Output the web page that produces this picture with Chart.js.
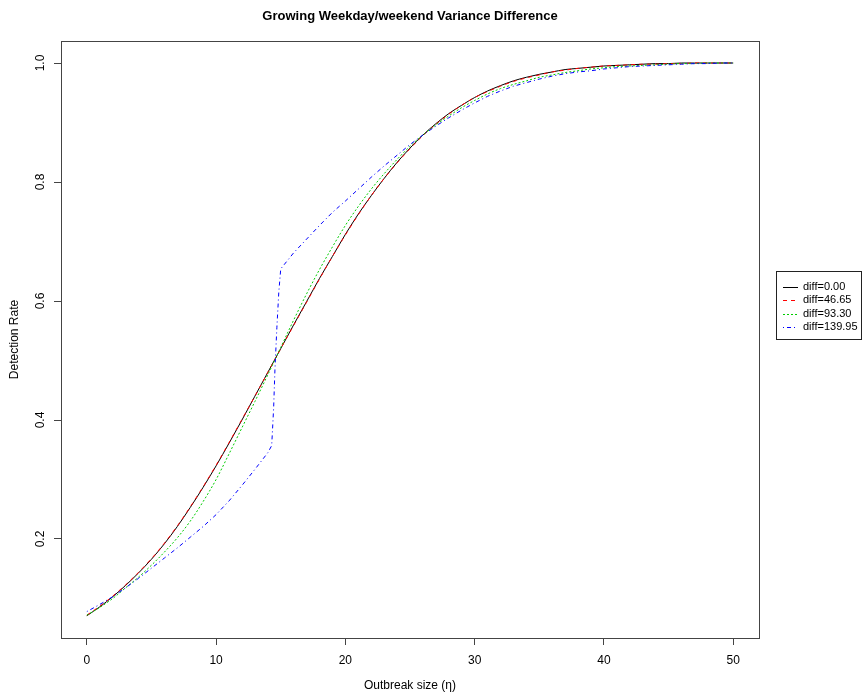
<!DOCTYPE html>
<html>
<head>
<meta charset="utf-8">
<script src="https://cdn.jsdelivr.net/npm/chart.js@4/dist/chart.umd.min.js"></script>
<style>
  html, body { margin: 0; padding: 0; background: #ffffff; }
  #wrap { width: 863px; height: 698px; }
</style>
</head>
<body>
<div id="wrap"><canvas id="c" width="863" height="698"></canvas></div>
<script>
// Outbreak sizes (eta) at which the detection rate was evaluated
const sizes = [0,1,2,3,4,5,6,7,8,9,10,11,12,13,14,15,16,17,18,19,20,21,22,23,24,25,
  26,27,28,29,30,31,32,33,34,35,36,37,38,39,40,41,42,43,44,45,46,47,48,49,50];

// diff = 0.00
const rateDiff0 = [0.071,0.086,0.103,0.122,0.143,0.166,0.192,0.221,0.253,0.287,0.323,0.361,0.400,0.440,0.480,0.520,
  0.560,0.599,0.638,0.675,0.712,0.746,0.777,0.806,0.833,0.857,0.879,0.898,0.915,0.929,0.942,0.953,0.962,0.970,
  0.976,0.981,0.985,0.989,0.991,0.993,0.995,0.996,0.997,0.998,0.999,0.999,1.000,1.000,1.000,1.000,1.000];

// diff = 46.65
const rateDiff1 = [0.072,0.087,0.104,0.123,0.144,0.167,0.193,0.222,0.254,0.288,0.324,0.362,0.401,0.440,0.480,0.520,
  0.559,0.598,0.637,0.675,0.711,0.745,0.777,0.806,0.832,0.856,0.878,0.897,0.914,0.929,0.942,0.952,0.961,0.969,
  0.975,0.980,0.985,0.988,0.991,0.993,0.995,0.996,0.997,0.998,0.998,0.999,0.999,1.000,1.000,1.000,1.000];

// diff = 93.30
const rateDiff2 = [0.072,0.085,0.100,0.118,0.136,0.156,0.178,0.202,0.230,0.263,0.300,0.343,0.387,0.431,0.476,0.522,
  0.568,0.612,0.653,0.691,0.727,0.759,0.788,0.814,0.838,0.860,0.879,0.896,0.911,0.925,0.937,0.948,0.957,0.964,
  0.970,0.976,0.980,0.984,0.987,0.990,0.992,0.994,0.995,0.996,0.997,0.998,0.999,0.999,1.000,1.000,1.000];

// diff = 139.95 (sampled more finely where the rate jumps)
const sizesDiff3 = [0,1,2,3,4,5,6,7,8,9,10,11,12,13,14,14.3,14.45,14.55,14.7,14.85,15,16,17,18,19,20,21,22,23,24,25,
  26,27,28,29,30,31,32,33,34,35,36,37,38,39,40,41,42,43,44,45,46,47,48,49,50];
const rateDiff3 = [0.078,0.090,0.103,0.118,0.134,0.151,0.168,0.185,0.203,0.221,0.241,0.264,0.290,0.317,0.345,0.357,
  0.420,0.484,0.555,0.615,0.654,0.681,0.704,0.727,0.749,0.768,0.788,0.808,0.827,0.845,0.863,0.879,0.894,0.908,
  0.921,0.933,0.944,0.953,0.961,0.967,0.973,0.978,0.982,0.985,0.987,0.990,0.992,0.994,0.995,0.996,0.997,0.998,
  0.999,0.999,1.000,1.000];

const seriesLabels = ['diff=0.00', 'diff=46.65', 'diff=93.30', 'diff=139.95'];
const xTicks = [0, 10, 20, 30, 40, 50];
const yTicks = [0.2, 0.4, 0.6, 0.8, 1.0];
const yTickLabels = ['0.2', '0.4', '0.6', '0.8', '1.0'];

const FONT = '"Liberation Sans", Arial, Helvetica, sans-serif';

function pts(xs, ys) { return xs.map((x, i) => ({ x: x, y: ys[i] })); }

// Frame, title, axis titles, rotated y labels and the legend box
const decor = {
  id: 'decor',
  afterDraw(chart) {
    const ctx = chart.ctx;
    const a = chart.chartArea;
    const ys = chart.scales.y;
    ctx.save();
    // plot frame
    ctx.strokeStyle = '#444';
    ctx.lineWidth = 1;
    ctx.strokeRect(Math.round(a.left) + 0.5, Math.round(a.top) + 0.5,
                   Math.round(a.right - a.left), Math.round(a.bottom - a.top));
    // title
    ctx.fillStyle = '#000';
    ctx.font = 'bold 13px ' + FONT;
    ctx.textAlign = 'center';
    ctx.textBaseline = 'middle';
    ctx.fillText('Growing Weekday/weekend Variance Difference', (a.left + a.right) / 2, 16);
    // x axis title
    ctx.font = '12px ' + FONT;
    ctx.fillText('Outbreak size (\u03B7)', (a.left + a.right) / 2, 686);
    // y axis title
    ctx.save();
    ctx.translate(15, (a.top + a.bottom) / 2);
    ctx.rotate(-Math.PI / 2);
    ctx.fillText('Detection Rate', 0, 0);
    ctx.restore();
    // y tick labels, written vertically
    yTicks.forEach((v, i) => {
      const py = ys.getPixelForValue(v);
      ctx.save();
      ctx.translate(41, py);
      ctx.rotate(-Math.PI / 2);
      ctx.fillText(yTickLabels[i], 0, 0);
      ctx.restore();
    });
    // legend
    const lx = 776, ly = 271, lw = 85, lh = 68;
    ctx.fillStyle = '#fff';
    ctx.fillRect(lx, ly, lw, lh);
    ctx.strokeStyle = '#222';
    ctx.strokeRect(lx + 0.5, ly + 0.5, lw, lh);
    ctx.font = '11px ' + FONT;
    ctx.textAlign = 'left';
    chart.data.datasets.forEach((ds, i) => {
      const ry = 287 + i * 13.3;
      ctx.strokeStyle = ds.borderColor;
      ctx.lineWidth = 1;
      ctx.setLineDash(ds.borderDash || []);
      ctx.beginPath();
      ctx.moveTo(783, Math.round(ry) + 0.5);
      ctx.lineTo(798, Math.round(ry) + 0.5);
      ctx.stroke();
      ctx.setLineDash([]);
      ctx.fillStyle = '#000';
      ctx.fillText(ds.label, 803, ry);
    });
    ctx.restore();
  }
};

const common = { borderWidth: 1, pointRadius: 0, fill: false };

new Chart(document.getElementById('c'), {
  type: 'line',
  data: {
    datasets: [
      Object.assign({ label: seriesLabels[0], data: pts(sizes, rateDiff0), borderColor: '#000000', borderDash: [], order: 3, cubicInterpolationMode: 'monotone' }, common),
      Object.assign({ label: seriesLabels[1], data: pts(sizes, rateDiff1), borderColor: '#FF0000', borderDash: [4, 4], order: 2, cubicInterpolationMode: 'monotone' }, common),
      Object.assign({ label: seriesLabels[2], data: pts(sizes, rateDiff2), borderColor: '#00CD00', borderDash: [2, 2], order: 1, cubicInterpolationMode: 'monotone' }, common),
      Object.assign({ label: seriesLabels[3], data: pts(sizesDiff3, rateDiff3), borderColor: '#0000FF', borderDash: [1, 3, 4, 3], order: 0, tension: 0 }, common)
    ]
  },
  options: {
    responsive: false,
    animation: false,
    events: [],
    layout: { padding: { top: 41, right: 104, bottom: 0, left: 0 } },
    plugins: { legend: { display: false }, title: { display: false }, tooltip: { enabled: false } },
    scales: {
      x: {
        type: 'linear',
        min: -2, max: 52,
        afterBuildTicks: s => { s.ticks = xTicks.map(v => ({ value: v })); },
        afterFit: s => { s.height = 60; },
        grid: { drawOnChartArea: false, drawTicks: true, tickLength: 7, color: '#444', lineWidth: 1 },
        border: { display: false },
        ticks: { color: '#000', font: { family: FONT, size: 12 }, padding: 8, maxRotation: 0, autoSkip: false }
      },
      y: {
        type: 'linear',
        min: 0.0336, max: 1.037,
        afterBuildTicks: s => { s.ticks = yTicks.map(v => ({ value: v })); },
        afterFit: s => { s.width = 61; },
        grid: { drawOnChartArea: false, drawTicks: true, tickLength: 7, color: '#444', lineWidth: 1 },
        border: { display: false },
        ticks: { display: false }
      }
    }
  },
  plugins: [decor]
});
</script>
</body>
</html>
